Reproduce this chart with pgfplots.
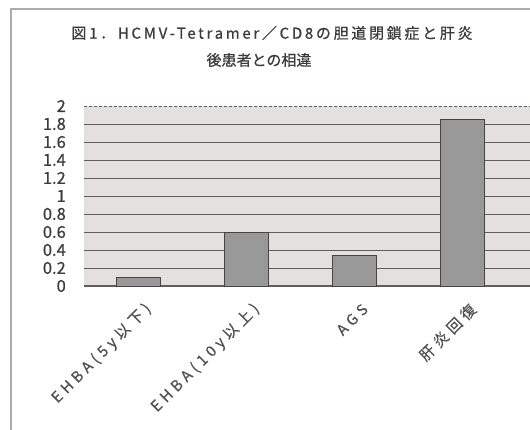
\documentclass[border=0pt]{standalone}
\usepackage{fontspec}
\setmainfont{Noto Sans CJK JP}[FakeBold=0.6]
\newfontfamily\jpwide[LetterSpace=18,FakeBold=0.8]{Noto Sans CJK JP}
\newfontfamily\jptitle[FakeBold=0.8]{Noto Sans CJK JP}
\newfontfamily\jplab[LetterSpace=28,FakeBold=0.4]{Noto Sans CJK JP}
\usepackage{pgfplots}
\pgfplotsset{compat=1.18}

\definecolor{txt}{HTML}{3C3C3C}
\definecolor{labtxt}{HTML}{505050}
\definecolor{plotbg}{HTML}{E4E0E0}
\definecolor{barfill}{HTML}{999999}
\definecolor{baredge}{HTML}{454545}
\definecolor{gridc}{HTML}{5E5E5E}

\begin{document}
\begin{tikzpicture}[x=1pt,y=1pt]
\path[clip] (0,0) rectangle (530,-430);
\useasboundingbox (0,0) rectangle (530,-430);
\fill[white] (0,0) rectangle (530,-430);
% chart frame
\draw[gray!65, line width=1.4pt] (11,-432) -- (11,-9) -- (532,-9);
% title
\node[font=\jpwide\fontsize{15}{17}\selectfont, text=txt] at (272,-33)
  {図1．HCMV-Tetramer／CD8の胆道閉鎖症と肝炎};
\node[font=\jptitle\fontsize{15}{17}\selectfont, text=txt] at (259,-60)
  {後患者との相違};

\begin{axis}[
  at={(84pt,-286pt)}, anchor=south west,
  scale only axis, width=461pt, height=180pt,
  xmin=-0.5, xmax=3.76, ymin=0, ymax=2,
  ybar, bar width=0.405,
  axis line style={draw=none},
  axis background/.style={fill=plotbg},
  /pgf/number format/assume math mode=true,
  ytick={0,0.2,0.4,0.6,0.8,1,1.2,1.4,1.6,1.8},
  yticklabels={0,0.2,0.4,0.6,0.8,1,1.2,1.4,1.6,1.8},
  extra y ticks={2}, extra y tick labels={2},
  extra y tick style={grid style={draw=gray!45, dash pattern=on 3pt off 2pt, line width=0.8pt}},
  ymajorgrids,
  major grid style={draw=gridc, line width=1pt},
  ytick style={draw=none},
  yticklabel style={font=\fontsize{16.5}{18}\selectfont, text=txt, anchor=east, inner sep=0pt, xshift=-18pt},
  xtick={0,1,2,3},
  xticklabels={EHBA(5y以下), EHBA(10y以上), AGS, 肝炎回復},
  xtick pos=left,
  major x tick style={draw=none},
  extra x ticks={0.5,1.5,2.5,3.5}, extra x tick labels={},
  extra x tick style={major tick length=5pt, tick align=inside, xmajorgrids=false,
    tick style={draw=gridc, line width=1pt}},
  xticklabel style={font=\jplab\fontsize{15}{17}\selectfont, text=labtxt, rotate=45,
    anchor=east, inner sep=0pt, xshift=-4pt, yshift=-19pt},
]
\draw[gridc, line width=1.2pt] (axis cs:-0.5,0) -- (axis cs:3.76,0);
\addplot[fill=barfill, draw=baredge, line width=1pt]
  coordinates {(0,0.10) (1,0.59) (2,0.34) (3,1.85)};
\end{axis}
\end{tikzpicture}
\end{document}
